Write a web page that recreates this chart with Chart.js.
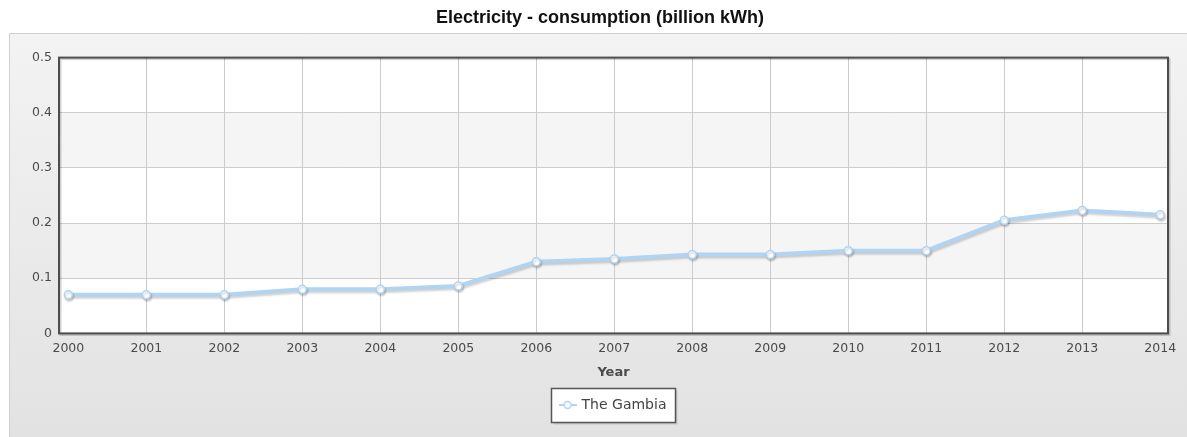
<!DOCTYPE html>
<html>
<head>
<meta charset="utf-8">
<script src="https://cdn.jsdelivr.net/npm/chart.js@4.4.0/dist/chart.umd.min.js"></script>
<style>
html,body{margin:0;padding:0;background:#fff;overflow:hidden}
#wrap{position:relative;width:1187px;height:437px}
</style>
</head>
<body>
<div id="wrap"><canvas id="c" width="1187" height="437"></canvas></div>
<script>
const chartTitle = 'Electricity - consumption (billion kWh)';
const xAxisTitle = 'Year';
const seriesName = 'The Gambia';
const years = [2000, 2001, 2002, 2003, 2004, 2005, 2006, 2007, 2008, 2009, 2010, 2011, 2012, 2013, 2014];
const xTickLabels = ['2000','2001','2002','2003','2004','2005','2006','2007','2008','2009','2010','2011','2012','2013','2014'];
const consumption = [0.07, 0.07, 0.07, 0.08, 0.08, 0.086, 0.13, 0.135, 0.143, 0.143, 0.15, 0.15, 0.205, 0.223, 0.215];
const yTicks = [0, 0.1, 0.2, 0.3, 0.4, 0.5];
const yTickLabels = ['0', '0.1', '0.2', '0.3', '0.4', '0.5'];

const lineColor = '#b0d4f1';
const tickFont = {family: 'DejaVu Sans', size: 12.5};

// legend marker: short line with hollow circle
const marker = document.createElement('canvas');
marker.width = 18; marker.height = 10;
(function(){
  const m = marker.getContext('2d');
  m.strokeStyle = lineColor; m.lineWidth = 2;
  m.beginPath(); m.moveTo(0, 5); m.lineTo(18, 5); m.stroke();
  m.beginPath(); m.arc(9, 5, 3.5, 0, Math.PI * 2);
  m.fillStyle = '#fff'; m.fill(); m.lineWidth = 1.5; m.stroke();
})();

const decor = {
  id: 'decor',
  beforeDraw(chart) {
    const {ctx, chartArea: a} = chart;
    ctx.save();
    // outer panel
    const g = ctx.createLinearGradient(0, 33, 0, 437);
    g.addColorStop(0, '#f3f3f3');
    g.addColorStop(1, '#e2e2e2');
    ctx.fillStyle = g;
    ctx.fillRect(9, 33, 1200, 410);
    ctx.strokeStyle = '#cfcfcf'; ctx.lineWidth = 1;
    ctx.beginPath(); ctx.moveTo(9.5, 440); ctx.lineTo(9.5, 33.5); ctx.lineTo(1190, 33.5); ctx.stroke();
    // plot area + bands
    ctx.fillStyle = '#ffffff';
    ctx.fillRect(a.left, a.top, a.width, a.height);
    const ys = chart.scales.y;
    ctx.fillStyle = '#f5f5f5';
    for (let i = 1; i < yTicks.length; i += 2) {
      const y1 = ys.getPixelForValue(yTicks[i + 1] !== undefined ? yTicks[i + 1] : yTicks[i]);
      const y0 = ys.getPixelForValue(yTicks[i]);
      ctx.fillRect(a.left, y1, a.width, y0 - y1);
    }
    // legend box
    const hb = chart.legend && chart.legend.legendHitBoxes && chart.legend.legendHitBoxes[0];
    if (hb) {
      const bx = Math.round(hb.left - 10) + 0.5;
      const by = Math.round(hb.top + hb.height / 2 - 17) + 0.5;
      const bw = Math.round(hb.width + 18);
      const bh = 34;
      ctx.fillStyle = 'rgba(0,0,0,0.12)';
      ctx.fillRect(bx + 2, by + 2, bw, bh);
      ctx.fillStyle = '#ffffff';
      ctx.fillRect(bx, by, bw, bh);
      ctx.strokeStyle = '#555555'; ctx.lineWidth = 1.5;
      ctx.strokeRect(bx, by, bw, bh);
    }
    ctx.restore();
  },
  beforeDatasetsDraw(chart) {
    const {ctx, chartArea: a} = chart;
    ctx.save();
    ctx.strokeStyle = 'rgba(0,0,0,0.18)'; ctx.lineWidth = 2;
    ctx.strokeRect(a.left + 1.5, a.top + 1.5, a.width, a.height);
    ctx.strokeStyle = '#4d4d4d'; ctx.lineWidth = 2;
    ctx.strokeRect(a.left, a.top, a.width, a.height);
    ctx.restore();
  },
  beforeDatasetDraw(chart) {
    const ctx = chart.ctx;
    ctx.save();
    ctx.shadowColor = 'rgba(0,0,0,0.18)';
    ctx.shadowOffsetX = 1; ctx.shadowOffsetY = 2; ctx.shadowBlur = 2;
  },
  afterDatasetDraw(chart) {
    chart.ctx.restore();
  }
};

const edgeHidden = (list) => (c) => (c.tick && (c.tick.value === list[0] || c.tick.value === list[list.length - 1])) ? 'rgba(0,0,0,0)' : '#cccccc';

new Chart(document.getElementById('c'), {
  type: 'line',
  data: {
    datasets: [{
      label: seriesName,
      data: years.map((x, i) => ({x: x, y: consumption[i]})),
      borderColor: lineColor,
      borderWidth: 4,
      tension: 0,
      fill: false,
      pointRadius: 4,
      pointBackgroundColor: '#ffffff',
      pointBorderColor: lineColor,
      pointBorderWidth: 1.5
    }]
  },
  options: {
    responsive: false,
    animation: false,
    devicePixelRatio: 1,
    layout: {padding: {left: 32, right: 19, top: 0, bottom: 15}},
    scales: {
      x: {
        type: 'linear',
        min: 1999.88,
        max: 2014.1,
        afterBuildTicks: (s) => { s.ticks = years.map(v => ({value: v})); },
        ticks: {
          callback: (v) => { const i = years.indexOf(v); return i >= 0 ? xTickLabels[i] : ''; },
          font: tickFont, color: '#4a4a4a', padding: 8, maxRotation: 0, autoSkip: false
        },
        grid: {color: edgeHidden(years), drawTicks: false, lineWidth: 1},
        border: {display: false},
        title: {
          display: true, text: xAxisTitle, color: '#4a4a4a',
          font: {family: 'DejaVu Sans', size: 13, weight: 'bold'},
          padding: {top: 0, bottom: 8}
        }
      },
      y: {
        min: 0,
        max: 0.5,
        afterBuildTicks: (s) => { s.ticks = yTicks.map(v => ({value: v})); },
        afterFit: (s) => { s.width = 27; },
        ticks: {
          callback: (v) => { const i = yTicks.indexOf(v); return i >= 0 ? yTickLabels[i] : ''; },
          font: tickFont, color: '#4a4a4a', padding: 7
        },
        grid: {color: edgeHidden(yTicks), drawTicks: false, lineWidth: 1},
        border: {display: false}
      }
    },
    plugins: {
      title: {
        display: true, text: chartTitle, color: '#111111',
        font: {family: 'Liberation Sans', size: 18, weight: 'bold'},
        padding: {top: 7, bottom: 29}
      },
      legend: {
        position: 'bottom',
        fullSize: false,
        labels: {
          usePointStyle: true,
          pointStyleWidth: 14,
          padding: 10,
          color: '#444444',
          font: {family: 'DejaVu Sans', size: 14},
          generateLabels: () => [{
            text: seriesName, pointStyle: marker, fillStyle: '#ffffff',
            strokeStyle: lineColor, lineWidth: 0, hidden: false, datasetIndex: 0, fontColor: '#444444'
          }]
        }
      },
      tooltip: {enabled: false}
    }
  },
  plugins: [decor]
});
</script>
</body>
</html>
